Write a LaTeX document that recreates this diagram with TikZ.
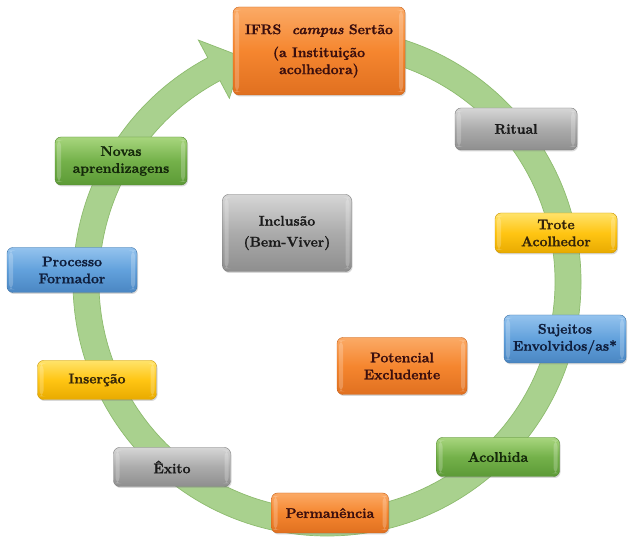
\documentclass[tikz,border=0pt]{standalone}
\usepackage{fontspec}
\setmainfont{Latin Modern Roman}[BoldFeatures={FakeBold=1.2},BoldItalicFeatures={FakeBold=1.2}]
\usetikzlibrary{shadows,calc}
\definecolor{ringfill}{HTML}{A9D18E}
\definecolor{ringedge}{HTML}{8DBB6E}
\definecolor{orT}{HTML}{FBAA66}\definecolor{orM}{HTML}{F5862F}\definecolor{orB}{HTML}{E07020}\definecolor{orD}{HTML}{C8621A}\definecolor{orX}{HTML}{3A0E0E}
\definecolor{grT}{HTML}{D6D6D6}\definecolor{grM}{HTML}{ABABAB}\definecolor{grB}{HTML}{8E8E8E}\definecolor{grD}{HTML}{7A7A7A}\definecolor{grX}{HTML}{1A1A1A}
\definecolor{yeT}{HTML}{FFE36A}\definecolor{yeM}{HTML}{FFC513}\definecolor{yeB}{HTML}{E8AA00}\definecolor{yeD}{HTML}{C99400}\definecolor{yeX}{HTML}{33240A}
\definecolor{blT}{HTML}{94C3EE}\definecolor{blM}{HTML}{62A1DC}\definecolor{blB}{HTML}{4A86C2}\definecolor{blD}{HTML}{3C72A8}\definecolor{blX}{HTML}{0F1E3C}
\definecolor{gnT}{HTML}{A8D67E}\definecolor{gnM}{HTML}{74B14A}\definecolor{gnB}{HTML}{5C9A36}\definecolor{gnD}{HTML}{4E852C}\definecolor{gnX}{HTML}{14280A}
\tikzset{
  box/.style={rounded corners=6pt, inner sep=2pt, align=center,
    font=\fontsize{14}{17}\selectfont\bfseries,
    drop shadow={shadow xshift=1pt,shadow yshift=-1.5pt,opacity=0.3},
    path picture={
      \fill[white,opacity=0.22] ([xshift=2pt,yshift=3pt]path picture bounding box.south west) rectangle ([xshift=6pt,yshift=-3pt]path picture bounding box.north west);
      \fill[white,opacity=0.22] ([xshift=-6pt,yshift=3pt]path picture bounding box.south east) rectangle ([xshift=-2pt,yshift=-3pt]path picture bounding box.north east);
    }},
  orbox/.style={box, top color=orT, bottom color=orB, middle color=orM, draw=orD, text=orX},
  grbox/.style={box, top color=grT, bottom color=grB, middle color=grM, draw=grD, text=grX},
  yebox/.style={box, top color=yeT, bottom color=yeB, middle color=yeM, draw=yeD, text=yeX},
  blbox/.style={box, top color=blT, bottom color=blB, middle color=blM, draw=blD, text=blX},
  gnbox/.style={box, top color=gnT, bottom color=gnB, middle color=gnM, draw=gnD, text=gnX},
  ring/.style={fill=ringfill, draw=ringedge, line width=0.7pt}
}
\begin{document}
\begin{tikzpicture}[x=1pt,y=1pt]
\useasboundingbox[fill=white] (0,0) rectangle (628,537);
\coordinate (C) at (327,255);
% circular arrow
\path[ring] ($(C)+(88:254)$) arc[start angle=88, end angle=-242, radius=254]
  -- ($(C)+(-242:274)$) -- ($(C)+(-249.5:240)$) -- ($(C)+(-242:208)$)
  -- ($(C)+(-242:228)$) arc[start angle=-242, end angle=88, radius=228] -- cycle;
% boxes
\node[orbox, minimum width=172pt, minimum height=88pt] (ifrs) at (319,486)
  {IFRS\ \ \textit{campus} Sertão\\[6pt](a Instituição\\acolhedora)};
\node[grbox, minimum width=122pt, minimum height=42pt] (ritual) at (516,408) {Ritual};
\node[yebox, minimum width=122pt, minimum height=40pt] (trote) at (556,304) {Trote\\Acolhedor};
\node[blbox, minimum width=122pt, minimum height=48pt] (sujeitos) at (565,198) {Sujeitos\\Envolvidos/as*};
\node[gnbox, minimum width=123pt, minimum height=39pt] (acolhida) at (498,80) {Acolhida};
\node[orbox, minimum width=130pt, minimum height=57pt] (potencial) at (402,171) {Potencial\\Excludente};
\node[grbox, minimum width=129pt, minimum height=77pt] (inclusao) at (287,304) {Inclusão\\[4pt](Bem-Viver)};
\node[gnbox, minimum width=132pt, minimum height=48pt] (novas) at (121,376) {Novas\\aprendizagens};
\node[blbox, minimum width=130pt, minimum height=45pt] (processo) at (72,267) {Processo\\Formador};
\node[yebox, minimum width=119pt, minimum height=39pt] (insercao) at (97,157) {Inserção};
\node[grbox, minimum width=117pt, minimum height=39pt] (exito) at (172,70) {Êxito};
\node[orbox, minimum width=117pt, minimum height=40pt] (permanencia) at (330,24) {Permanência};
\end{tikzpicture}
\end{document}
